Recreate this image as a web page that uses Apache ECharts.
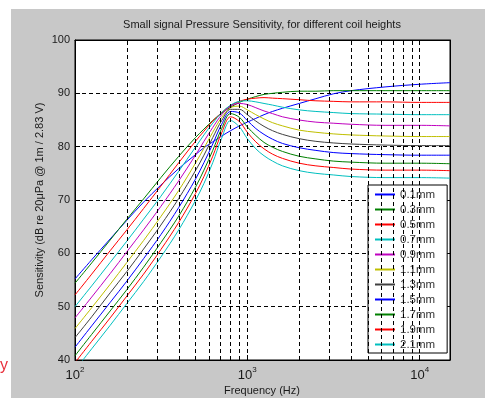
<!DOCTYPE html>
<html>
<head>
<meta charset="utf-8">
<script src="https://cdn.jsdelivr.net/npm/echarts@6/dist/echarts.min.js"></script>
<style>
  html, body { margin: 0; padding: 0; background: #fff; }
  #chart { width: 485px; height: 398px; }
</style>
</head>
<body>
<div id="chart"></div>
<script>
const freqs = [100, 125, 160, 200, 250, 315, 400, 500, 560, 630, 710, 800, 900, 1000,
  1120, 1250, 1400, 1600, 2000, 2500, 3150, 4000, 6300, 10000, 15000];

const coilNames = ['0.1mm', '0.3mm', '0.5mm', '0.7mm', '0.9mm', '1.1mm', '1.3mm', '1.5mm', '1.7mm', '1.9mm', '2.1mm'];

// sensitivity in dB for each coil height
const h01 = [55.2, 58.8, 62.7, 66.2, 69.6, 72.8, 75.9, 78.5, 79.8, 80.9, 82.0, 83.0, 83.9, 84.6, 85.3, 86.0, 86.6, 87.2, 88.1, 89.0, 89.9, 90.5, 91.2, 91.7, 92.0];
const h03 = [54.4, 58.2, 62.5, 66.4, 70.2, 74.2, 78.2, 81.7, 83.3, 84.9, 86.3, 87.4, 88.3, 88.9, 89.4, 89.8, 90.0, 90.2, 90.4, 90.4, 90.5, 90.5, 90.5, 90.5, 90.5];
const h05 = [52.2, 56.1, 60.5, 64.4, 68.4, 72.6, 77.0, 81.0, 82.9, 84.8, 86.4, 87.7, 88.5, 88.9, 89.1, 89.2, 89.1, 89.0, 88.8, 88.6, 88.5, 88.4, 88.4, 88.3, 88.3];
const h07 = [50.0, 53.9, 58.3, 62.3, 66.4, 70.7, 75.4, 79.9, 82.2, 84.4, 86.4, 87.8, 88.5, 88.6, 88.4, 88.1, 87.8, 87.4, 86.9, 86.6, 86.4, 86.2, 86.1, 86.0, 86.0];
const h09 = [47.9, 51.8, 56.2, 60.3, 64.4, 68.8, 73.6, 78.4, 81.0, 83.6, 86.0, 87.6, 88.1, 87.9, 87.3, 86.7, 86.2, 85.6, 85.0, 84.6, 84.4, 84.2, 84.0, 84.0, 83.9];
const h11 = [45.9, 49.8, 54.2, 58.3, 62.4, 66.9, 71.8, 76.9, 79.7, 82.7, 85.5, 87.3, 87.6, 86.9, 86.0, 85.2, 84.5, 83.9, 83.1, 82.7, 82.4, 82.2, 82.0, 81.9, 81.9];
const h13 = [44.2, 48.1, 52.6, 56.6, 60.8, 65.3, 70.3, 75.5, 78.4, 81.7, 84.9, 87.0, 87.0, 86.0, 84.8, 83.8, 83.0, 82.3, 81.5, 81.0, 80.7, 80.5, 80.3, 80.2, 80.2];
const h15 = [42.4, 46.4, 50.8, 54.8, 59.0, 63.5, 68.6, 73.9, 77.0, 80.5, 84.2, 86.6, 86.3, 84.9, 83.4, 82.3, 81.4, 80.6, 79.8, 79.3, 78.9, 78.7, 78.5, 78.4, 78.4];
const h17 = [40.8, 44.8, 49.2, 53.2, 57.4, 62.0, 67.0, 72.4, 75.6, 79.3, 83.4, 86.2, 85.5, 83.7, 82.1, 80.8, 79.9, 79.1, 78.2, 77.7, 77.3, 77.1, 76.9, 76.9, 76.8];
const h19 = [39.5, 43.5, 47.9, 52.0, 56.1, 60.7, 65.8, 71.2, 74.4, 78.2, 82.6, 85.6, 84.7, 82.7, 80.9, 79.6, 78.6, 77.8, 76.9, 76.4, 76.1, 75.8, 75.6, 75.6, 75.5];
const h21 = [38.1, 42.1, 46.5, 50.6, 54.7, 59.3, 64.4, 69.9, 73.1, 77.0, 81.6, 84.9, 83.7, 81.5, 79.6, 78.3, 77.3, 76.4, 75.5, 75.0, 74.7, 74.4, 74.2, 74.2, 74.1];

const allValues = [h01, h03, h05, h07, h09, h11, h13, h15, h17, h19, h21];

// matlab default colour order
const colors = ['#0000ff', '#008000', '#ff0000', '#00bfbf', '#bf00bf', '#bfbf00', '#404040'];

// dashed grid at the minor log positions
const minorFreqs = [200, 300, 400, 500, 600, 700, 800, 900, 1000, 2000, 3000, 4000, 5000, 6000, 7000, 8000, 9000, 10000];

const yTicks = [40, 50, 60, 70, 80, 90, 100];

const FONT = '"Liberation Sans", Arial, Helvetica, sans-serif';

const chart = echarts.init(document.getElementById('chart'));

const series = allValues.map((vals, i) => ({
  name: coilNames[i],
  type: 'line',
  data: freqs.map((f, j) => [f, vals[j]]),
  showSymbol: false,
  symbol: 'none',
  smooth: 0.35,
  clip: true,
  lineStyle: { width: 1, color: colors[i % colors.length] },
  itemStyle: { color: colors[i % colors.length] },
  z: 3
}));

// dummy series that carries the dashed vertical grid lines
series.push({
  name: 'grid',
  type: 'line',
  data: [],
  silent: true,
  markLine: {
    silent: true,
    symbol: ['none', 'none'],
    label: { show: false },
    lineStyle: { color: '#000', type: [4, 3], width: 1 },
    data: minorFreqs.map(f => ({ xAxis: f }))
  },
  z: 1
});

const option = {
  animation: false,
  backgroundColor: '#ffffff',
  graphic: [
    {
      type: 'rect',
      z: -10,
      shape: { x: 11, y: 9, width: 474, height: 389 },
      style: { fill: '#c8c8c8' }
    },
    {
      type: 'text',
      x: 262,
      y: 25,
      style: { text: 'Small signal Pressure Sensitivity, for different coil heights', font: '11px ' + FONT, fill: '#1a1a1a', align: 'center', verticalAlign: 'middle' }
    },
    {
      type: 'text',
      x: 262,
      y: 391,
      style: { text: 'Frequency (Hz)', font: '11px ' + FONT, fill: '#1a1a1a', align: 'center', verticalAlign: 'middle' }
    },
    {
      type: 'text',
      x: 40,
      y: 200,
      rotation: Math.PI / 2,
      style: { text: 'Sensitivity (dB re 20\u03bcPa @ 1m / 2.83 V)', font: '11px ' + FONT, fill: '#1a1a1a', align: 'center', verticalAlign: 'middle' }
    },
    {
      type: 'text',
      x: 0,
      y: 366,
      style: { text: 'y', font: '16px ' + FONT, fill: '#e8303c', align: 'left', verticalAlign: 'middle' }
    }
  ],
  grid: {
    left: 75,
    right: 35,
    top: 40,
    bottom: 38,
    show: true,
    backgroundColor: '#ffffff',
    borderColor: '#000',
    borderWidth: 1
  },
  legend: {
    data: coilNames.map(n => ({ name: n, icon: 'rect' })),
    orient: 'vertical',
    left: 368,
    top: 185,
    itemWidth: 20,
    itemHeight: 2,
    itemGap: 0,
    padding: [2, 12, 1, 7],
    backgroundColor: '#ffffff',
    borderColor: '#000',
    borderWidth: 1,
    textStyle: { fontSize: 11.5, lineHeight: 15, color: '#333', fontFamily: FONT }
  },
  xAxis: [
    {
      type: 'log',
      logBase: 10,
      min: 100,
      max: 15000,
      position: 'bottom',
      axisLine: { show: true, lineStyle: { color: '#000' } },
      axisTick: { show: true, inside: true, length: 5, lineStyle: { color: '#000' } },
      splitLine: { show: false },
      axisLabel: {
        margin: 6,
        color: '#1a1a1a',
        fontFamily: FONT,
        formatter: function (value) {
          const p = Math.round(Math.log10(value));
          if (Math.abs(Math.log10(value) - p) > 1e-6) return '';
          return '{b|10}{s|' + p + '}';
        },
        rich: {
          b: { fontSize: 13, lineHeight: 16, verticalAlign: 'bottom', color: '#1a1a1a', fontFamily: FONT },
          s: { fontSize: 8, lineHeight: 8, verticalAlign: 'top', color: '#1a1a1a', fontFamily: FONT }
        }
      }
    },
    {
      type: 'log',
      logBase: 10,
      min: 100,
      max: 15000,
      position: 'top',
      axisLine: { show: true, lineStyle: { color: '#000' } },
      axisTick: { show: true, inside: true, length: 5, lineStyle: { color: '#000' } },
      axisLabel: { show: false },
      splitLine: { show: false }
    }
  ],
  yAxis: [
    {
      type: 'value',
      min: 40,
      max: 100,
      interval: 10,
      position: 'left',
      axisLine: { show: true, lineStyle: { color: '#000' } },
      axisTick: { show: true, inside: true, length: 5, lineStyle: { color: '#000' } },
      splitLine: { show: true, lineStyle: { color: '#000', type: [4, 3], width: 1 } },
      axisLabel: {
        margin: 5,
        fontSize: 11,
        color: '#1a1a1a',
        fontFamily: FONT,
        formatter: function (v) { return yTicks.indexOf(v) >= 0 ? String(v) : ''; }
      }
    },
    {
      type: 'value',
      min: 40,
      max: 100,
      interval: 10,
      position: 'right',
      axisLine: { show: true, lineStyle: { color: '#000' } },
      axisTick: { show: true, inside: true, length: 5, lineStyle: { color: '#000' } },
      splitLine: { show: false },
      axisLabel: { show: false }
    }
  ],
  series: series
};

chart.setOption(option);
</script>
</body>
</html>
